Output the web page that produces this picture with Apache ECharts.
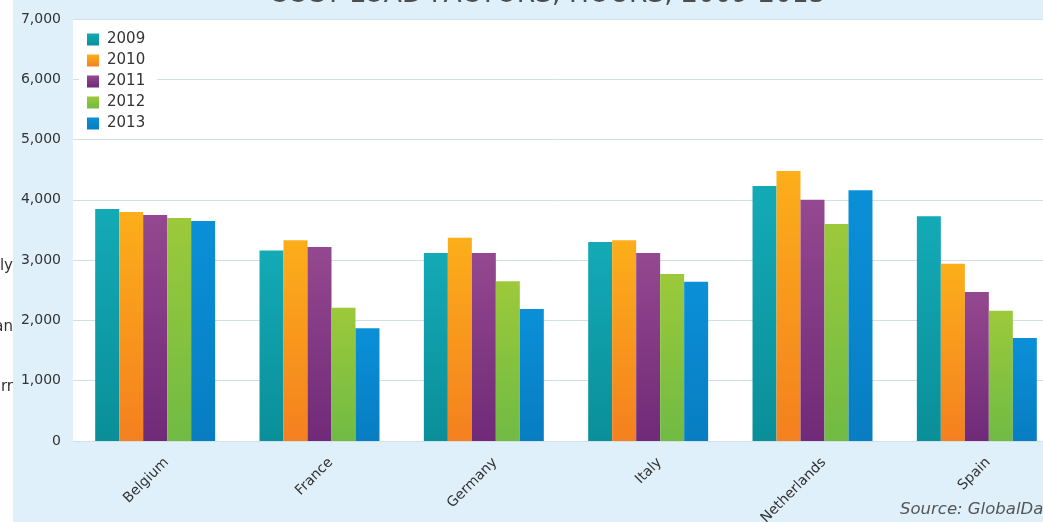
<!DOCTYPE html>
<html>
<head>
<meta charset="utf-8">
<script src="https://cdn.jsdelivr.net/npm/echarts@6/dist/echarts.min.js"></script>
<style>
  html, body { margin: 0; padding: 0; background: #fff; }
  #chart {
    width: 1043px;
    height: 522px;
    background: linear-gradient(to right, #fff 13px, #e0f0fa 13px);
  }
</style>
</head>
<body>
<div id="chart"></div>
<script>
// CCGT load factors, hours, 2009-2013
const countries = ['Belgium', 'France', 'Germany', 'Italy', 'Netherlands', 'Spain']
const years = ['2009', '2010', '2011', '2012', '2013']
const hours2009 = [3850, 3160, 3120, 3300, 4230, 3730]
const hours2010 = [3800, 3330, 3370, 3330, 4480, 2940]
const hours2011 = [3750, 3220, 3120, 3120, 4000, 2470]
const hours2012 = [3700, 2210, 2650, 2770, 3600, 2160]
const hours2013 = [3650, 1870, 2190, 2640, 4160, 1710]
const yTicks = [0, 1000, 2000, 3000, 4000, 5000, 6000, 7000]

const seriesValues = [hours2009, hours2010, hours2011, hours2012, hours2013]
// top / bottom colour of each bar gradient
const barColors = [
  ['#13aab6', '#0a8f99'],
  ['#fcae1a', '#f4801f'],
  ['#94488f', '#702a78'],
  ['#9cc93a', '#70bb44'],
  ['#0a90d8', '#087dc2']
]

const font = 'DejaVu Sans'
const chart = echarts.init(document.getElementById('chart'))

const option = {
  animation: false,
  backgroundColor: 'transparent',
  title: {
    text: 'CCGT LOAD FACTORS, HOURS, 2009-2013',
    left: 542,
    textAlign: 'center',
    top: -23,
    textStyle: { fontFamily: font, fontSize: 26.5, fontWeight: 'normal', color: '#4d4d4d' }
  },
  legend: {
    orient: 'vertical',
    left: 79,
    top: 27,
    itemWidth: 12,
    itemHeight: 12,
    itemGap: 6,
    padding: [5, 12, 5, 8],
    backgroundColor: '#fff',
    icon: 'rect',
    textStyle: { fontFamily: font, fontSize: 15, color: '#333', padding: [0, 0, 0, 3] },
    data: years
  },
  grid: {
    left: 73,
    top: 19,
    width: 986,
    height: 422,
    show: true,
    backgroundColor: '#fff',
    borderWidth: 0,
    containLabel: false,
    outerBoundsMode: 'none'
  },
  xAxis: {
    type: 'category',
    data: countries,
    axisTick: { show: false },
    axisLine: { lineStyle: { color: '#cfe0ea' } },
    axisLabel: {
      rotate: 45,
      margin: 15,
      verticalAlign: 'top',
      padding: [4, -5, 0, 0],
      fontFamily: font,
      fontSize: 14,
      color: '#333'
    }
  },
  yAxis: {
    type: 'value',
    min: 0,
    max: 7000,
    interval: 1000,
    axisLine: { show: false },
    axisTick: { show: false },
    splitLine: { lineStyle: { color: '#cfe0ea', width: 1 } },
    axisLabel: {
      margin: 12,
      fontFamily: font,
      fontSize: 14,
      color: '#333',
      formatter: v => (yTicks.includes(v) ? v.toLocaleString('en-US') : '')
    }
  },
  series: years.map((y, i) => ({
    name: y,
    type: 'bar',
    data: seriesValues[i],
    barGap: '0%',
    barCategoryGap: '27%',
    itemStyle: {
      color: new echarts.graphic.LinearGradient(0, 0, 0, 1, [
        { offset: 0, color: barColors[i][0] },
        { offset: 1, color: barColors[i][1] }
      ])
    }
  })),
  graphic: [
    { type: 'text', right: 1030, top: 259, style: { text: 'ly', font: '15px "DejaVu Sans"', fill: '#333' } },
    { type: 'text', right: 1030, top: 320, style: { text: 'an', font: '15px "DejaVu Sans"', fill: '#333' } },
    { type: 'text', right: 1030, top: 380, style: { text: 'rr', font: '15px "DejaVu Sans"', fill: '#333' } },
    { type: 'text', left: 900, top: 501, style: { text: 'Source: GlobalData', font: 'italic 16.5px "DejaVu Sans"', fill: '#555' } }
  ]
}

chart.setOption(option)
</script>
</body>
</html>
